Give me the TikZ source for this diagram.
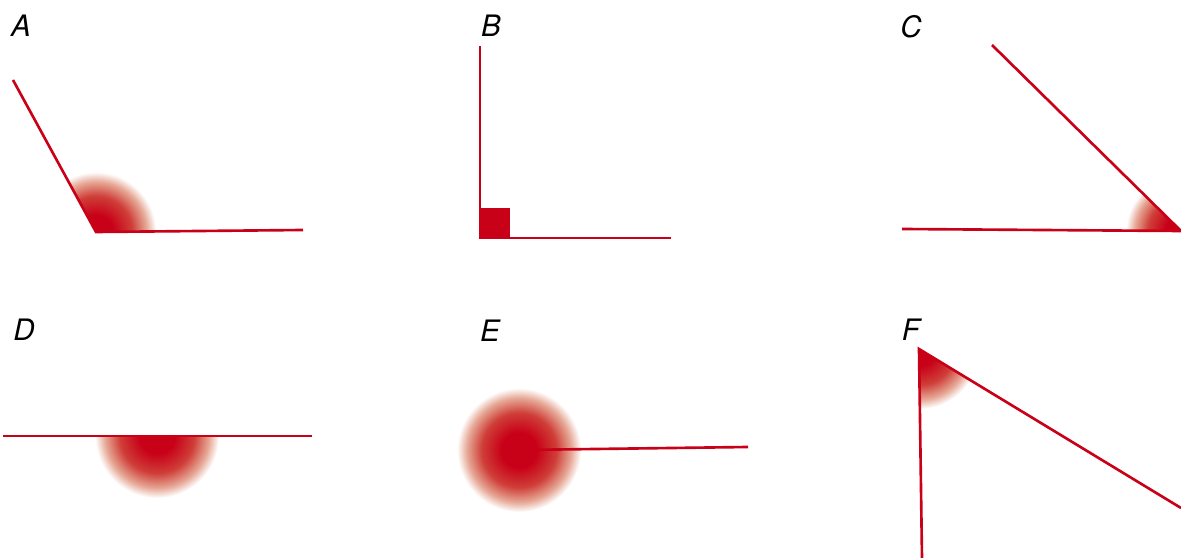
\documentclass[tikz,border=0pt]{standalone}
\usepackage{fontspec}
\setsansfont{TeX Gyre Heros}
\usepackage{tikz}
\usetikzlibrary{positioning}
\definecolor{AngleRed}{RGB}{200,0,24}
\definecolor{GlowMid}{RGB}{207,62,56}
\definecolor{GlowEdge}{RGB}{230,168,150}
\pgfdeclareradialshading{angleglow}{\pgfpointorigin}{%
  color(0bp)=(AngleRed); color(7bp)=(AngleRed); color(15bp)=(GlowMid);
  color(21bp)=(GlowEdge); color(25bp)=(white); color(50bp)=(white)}

\begin{document}
\begin{tikzpicture}[
  x=0.01cm, y=-0.01cm,
  side/.style={
    draw=AngleRed,
    line width=0.75pt
  },
  glow/.style={shading=angleglow},
  letter/.style={inner sep=0pt, font=\sffamily\itshape\fontsize{8.4}{10}\selectfont}
]
\useasboundingbox (0,0) rectangle (1181,558);

% A: obtuse
\coordinate (A) at (96,232);
\coordinate (Aleft) at (13,80);
\coordinate (Aright) at (303,230);
\begin{scope}
  \clip (Aleft) -- (A) -- (Aright) -- cycle;
  \shade[glow] (A) circle (0.6cm);
\end{scope}
\draw[side] (Aleft) -- (A) -- (Aright);
\node[letter] (labelA) at (21,26) {A};

% B: right
\coordinate (B) at (480,238);
\coordinate (Btop) at (480,46);
\coordinate (Bright) at (671,238);
\fill[AngleRed] (B) rectangle (510,208);
\draw[side] (Btop) -- (B) -- (Bright);
\node[letter] (labelB) at (491,26) {B};

% C: acute
\coordinate (C) at (1181,231);
\coordinate (Ctop) at (992,45);
\coordinate (Cleft) at (902,229);
\begin{scope}
  \clip (Ctop) -- (C) -- (Cleft) -- cycle;
  \shade[glow] (C) circle (0.55cm);
\end{scope}
\draw[side] (Ctop) -- (C) -- (Cleft);
\node[letter] (labelC) at (911,27) {C};

% D: straight
\coordinate (D) at (157,436);
\coordinate (Dleft) at (3,436);
\coordinate (Dright) at (312,436);
\begin{scope}
  \clip (Dleft) rectangle (312,520);
  \shade[glow] (D) circle (0.62cm);
\end{scope}
\draw[side] (Dleft) -- (Dright);
\node[letter] (labelD) at (24,330) {D};

% E: full
\coordinate (E) at (519,450);
\coordinate (Eright) at (748,447);
\shade[glow] (E) circle (0.62cm);
\draw[side] (E) -- (Eright);
\node[letter] (labelE) at (490,331) {E};

% F: acute
\coordinate (F) at (919,349);
\coordinate (Fdown) at (922,558);
\coordinate (Fright) at (1181,508);
\begin{scope}
  \clip (Fdown) -- (F) -- (Fright) -- cycle;
  \shade[glow] (F) circle (0.6cm);
\end{scope}
\draw[side] (Fdown) -- (F) -- (Fright);
\node[letter] (labelF) at (911,330) {F};
\end{tikzpicture}
\end{document}
